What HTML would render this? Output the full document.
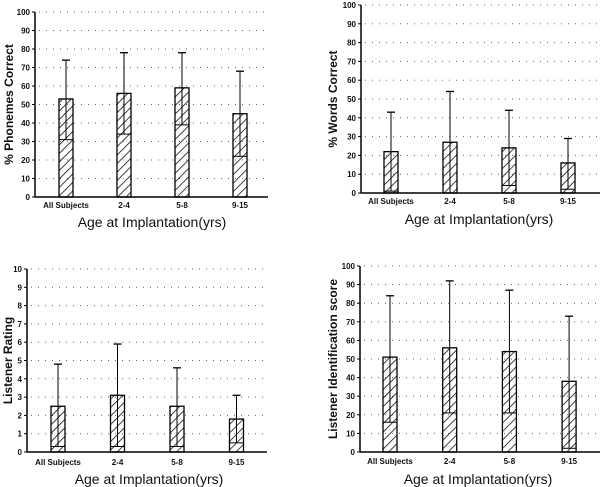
<!DOCTYPE html>
<html><head><meta charset="utf-8"><style>
html,body{margin:0;padding:0;background:#fff;}
svg{display:block;font-family:"Liberation Sans",Arial,sans-serif;}
</style></head><body>
<svg id="fig" width="600" height="487" viewBox="0 0 600 487">
<defs>
<pattern id="hatch" patternUnits="userSpaceOnUse" width="6" height="6" patternTransform="rotate(45)">
<line x1="0" y1="0" x2="0" y2="6" stroke="#111" stroke-width="1.6"/>
</pattern>
</defs>
</svg>
<script>
const categories = ["All Subjects","2-4","5-8","9-15"];
const phonemeMeans = [53,56,59,45];
const phonemeUpper = [74,78,78,68];
const phonemeLower = [31,34,39,22];
const wordMeans = [22,27,24,16];
const wordUpper = [43,54,44,29];
const wordLower = [1,0,4,2];
const ratingMeans = [2.5,3.1,2.5,1.8];
const ratingUpper = [4.8,5.9,4.6,3.1];
const ratingLower = [0.3,0.3,0.3,0.5];
const identMeans = [51,56,54,38];
const identUpper = [84,92,87,73];
const identLower = [16,21,21,2];
const ticks100 = [0,10,20,30,40,50,60,70,80,90,100];
const ticks10 = [0,1,2,3,4,5,6,7,8,9,10];

const NS="http://www.w3.org/2000/svg";
const svg=document.getElementById('fig');
function mk(tag,attrs,parent){const e=document.createElementNS(NS,tag);for(const k in attrs)e.setAttribute(k,attrs[k]);(parent||svg).appendChild(e);return e;}

function chart(cfg){
  const g=mk('g',{});
  
  
  const max=cfg.ticks[cfg.ticks.length-1];
  const y=v=>cfg.bottom-(v/max)*(cfg.bottom-cfg.top);
  cfg.ticks.forEach(t=>{
    if(t>0){const gl=mk('line',{x1:cfg.ax+4,x2:cfg.right,y1:y(t),y2:y(t),stroke:'#666','stroke-width':1,'stroke-dasharray':'1 6'},g);
      
      }
    const tk=mk('line',{x1:cfg.ax-3,x2:cfg.ax,y1:y(t),y2:y(t),stroke:'#000','stroke-width':1},g);
    
    
    const tl=mk('text',{x:cfg.ax-5,y:y(t)+3,'font-size':8,'font-weight':'bold','text-anchor':'end',fill:'#111'},g);
    tl.textContent=t;
    
    
  });
  const ya=mk('line',{x1:cfg.ax,x2:cfg.ax,y1:cfg.top,y2:cfg.bottom,stroke:'#000','stroke-width':1.5},g);
  
  
  const xa=mk('line',{x1:cfg.ax,x2:cfg.right,y1:cfg.bottom,y2:cfg.bottom,stroke:'#000','stroke-width':1.5},g);
  
  
  const x=i=>cfg.x0+i*cfg.dx;
  categories.forEach((c,i)=>{
    const cx=x(i),bw=14;
    const b=mk('rect',{x:cx-bw/2,y:y(cfg.means[i]),width:bw,height:cfg.bottom-y(cfg.means[i]),fill:'url(#hatch)',stroke:'#000','stroke-width':1.3},g);
    
    
    const e=mk('line',{x1:cx,x2:cx,y1:y(cfg.lower[i]),y2:y(cfg.upper[i]),stroke:'#000','stroke-width':1},g);
    
    
    const cap=mk('line',{x1:cx-4,x2:cx+4,y1:y(cfg.upper[i]),y2:y(cfg.upper[i]),stroke:'#000','stroke-width':1.3},g);
    
    
    const lc=mk('line',{x1:cx-bw/2,x2:cx+bw/2,y1:y(cfg.lower[i]),y2:y(cfg.lower[i]),stroke:'#000','stroke-width':1},g);
    
    
    const xl=mk('text',{x:cx,y:cfg.labelY,'font-size':8,'font-weight':'bold','text-anchor':'middle',fill:'#111'},g);
    xl.textContent=c;
    
    
  });
  const xt=mk('text',{x:cfg.titleX,y:cfg.titleY,'font-size':14,'text-anchor':'middle',fill:'#111'},g);
  xt.textContent='Age at Implantation(yrs)';
  
  
  const cy=(cfg.top+cfg.bottom)/2;
  const yt=mk('text',{x:cfg.ytX,y:cy,'font-size':12,'font-weight':'bold','text-anchor':'middle',fill:'#111',transform:`rotate(-90 ${cfg.ytX} ${cy})`},g);
  yt.textContent=cfg.ytitle;
  
  
}

chart({name:'phonemes-chart',ax:35,top:12,bottom:197,right:268,x0:66,dx:58,means:phonemeMeans,upper:phonemeUpper,lower:phonemeLower,ticks:ticks100,labelY:208,titleX:152,titleY:227,ytitle:'% Phonemes Correct',ytX:13});
chart({name:'words-chart',ax:361,top:5,bottom:193,right:600,x0:391,dx:59,means:wordMeans,upper:wordUpper,lower:wordLower,ticks:ticks100,labelY:204,titleX:479,titleY:224,ytitle:'% Words Correct',ytX:337});
chart({name:'rating-chart',ax:27,top:269,bottom:452,right:267,x0:58,dx:59.5,means:ratingMeans,upper:ratingUpper,lower:ratingLower,ticks:ticks10,labelY:465,titleX:149,titleY:484,ytitle:'Listener Rating',ytX:12});
chart({name:'identification-chart',ax:360,top:266,bottom:452,right:600,x0:390,dx:59.7,means:identMeans,upper:identUpper,lower:identLower,ticks:ticks100,labelY:464,titleX:478,titleY:484,ytitle:'Listener Identification score',ytX:337});
</script>
</body></html>
